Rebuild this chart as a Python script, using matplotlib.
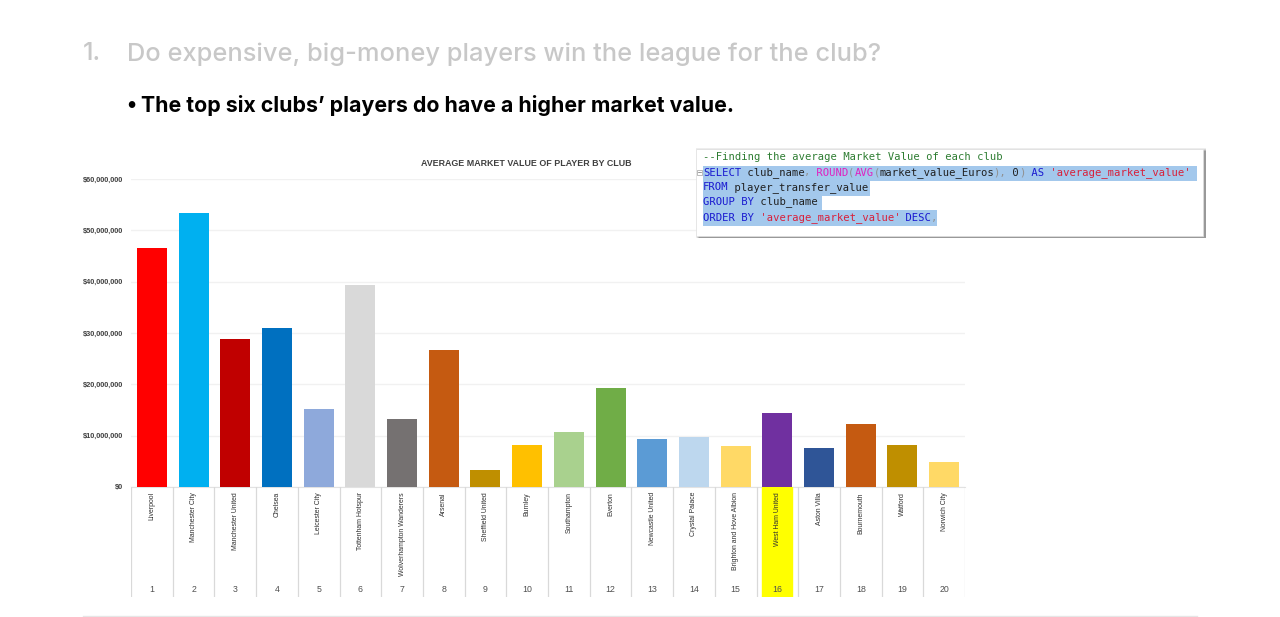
import matplotlib
matplotlib.use("Agg")
import matplotlib.pyplot as plt
from matplotlib.patches import Rectangle

W, H = 1280, 617

clubs = ["Liverpool", "Manchester City", "Manchester United", "Chelsea", "Leicester City",
         "Tottenham Hotspur", "Wolverhampton Wanderers", "Arsenal", "Sheffield United", "Burnley",
         "Southampton", "Everton", "Newcastle United", "Crystal Palace", "Brighton and Hove Albion",
         "West Ham United", "Aston Villa", "Bournemouth", "Watford", "Norwich City"]
ranks = list(range(1, 21))
values = [46.6e6, 53.4e6, 28.8e6, 31.0e6, 15.2e6, 39.4e6, 13.2e6, 26.7e6, 3.3e6, 8.2e6,
          10.7e6, 19.3e6, 9.3e6, 9.8e6, 8.0e6, 14.4e6, 7.6e6, 12.3e6, 8.2e6, 4.8e6]
colors = ["#FF0000", "#00B0F0", "#C00000", "#0070C0", "#8EA9DB", "#D9D9D9", "#757171", "#C55A11",
          "#BF8F00", "#FFC000", "#A9D18E", "#70AD47", "#5B9BD5", "#BDD7EE", "#FFD966", "#7030A0",
          "#2F5597", "#C55A11", "#BF8F00", "#FFD966"]
yticks = [0, 10e6, 20e6, 30e6, 40e6, 50e6, 60e6]
highlight = "West Ham United"

heading_num = "1."
heading = "Do expensive, big-money players win the league for the club?"
bullet = "The top six clubs’ players do have a higher market value."
chart_title = "AVERAGE MARKET VALUE OF PLAYER BY CLUB"

BLUE, PINK, RED, BLACK, GREEN, GREY = "#1a1ad0", "#e020c0", "#d8203a", "#202020", "#2e7d32", "#909090"
sql_lines = [
    [("--Finding the average Market Value of each club", GREEN)],
    [("SELECT", BLUE), (" club_name", BLACK), (",", GREY), (" ROUND", PINK), ("(", GREY), ("AVG", PINK),
     ("(", GREY), ("market_value_Euros", BLACK), ("),", GREY), (" 0", BLACK), (")", GREY), (" AS", BLUE),
     (" 'average_market_value'", RED)],
    [("FROM", BLUE), (" player_transfer_value", BLACK)],
    [("GROUP BY", BLUE), (" club_name", BLACK)],
    [("ORDER BY", BLUE), (" 'average_market_value'", RED), (" DESC", BLUE), (",", GREY)],
]
sql_y = [157, 172.5, 187.5, 202, 218]
sql_sel = [1197, 870, 822, 937]

fig = plt.figure(figsize=(W / 100, H / 100), dpi=100, facecolor="white")

def rect(l, t, r, b):
    return [l / W, 1 - b / H, (r - l) / W, (b - t) / H]

ax = fig.add_axes(rect(131, 179, 965, 487))
x = list(range(1, 21))
ax.bar(x, values, width=0.72, color=colors, zorder=3, linewidth=0)
ax.set_xlim(0.5, 20.5)
ax.set_ylim(0, 60e6)
ax.set_yticks(yticks)
ax.set_yticklabels([f"${v:,.0f}" for v in yticks], fontsize=5.3, fontweight="bold", color="#404040",
                   family="Liberation Sans")
ax.set_xticks([])
ax.tick_params(axis="y", length=0, pad=5.5)
ax.grid(axis="y", color="#f1f1f1", linewidth=1, zorder=0)
for s in ax.spines.values():
    s.set_visible(False)
ax.spines["bottom"].set_visible(True)
ax.spines["bottom"].set_color("#e2e2e2")

# category table below the axis
cat = fig.add_axes(rect(131, 487, 965, 597))
cat.set_xlim(0.5, 20.5)
cat.set_ylim(110, 0)
cat.axis("off")
for k in range(21):
    cat.axvline(k + 0.5, color="#d9d9d9", linewidth=0.9)
for xi, club, rank in zip(x, clubs, ranks):
    if club == highlight:
        cat.axvspan(xi - 0.36, xi + 0.36, color="#FFFF00", zorder=0)
    cat.text(xi, 5, club, rotation=90, ha="center", va="top", fontsize=4.95, color="#303030",
             family="Liberation Sans")
    cat.text(xi, 103, str(rank), ha="center", va="center", fontsize=6.3, color="#505050",
             family="Liberation Sans")

# page-level overlay in pixel coordinates
ov = fig.add_axes([0, 0, 1, 1], facecolor="none")
ov.set_xlim(0, W)
ov.set_ylim(H, 0)
ov.axis("off")

ov.text(83, 54, heading_num, fontsize=18.3, color="#c8c8c8", family="Inter", fontweight="medium", va="center")
ov.text(127, 54, heading, fontsize=18.3, color="#c8c8c8", family="Inter", fontweight="medium", va="center")
ov.text(126, 105, "•", fontsize=15.3, color="black", family="Inter", fontweight="bold", va="center")
ov.text(141, 105, bullet, fontsize=15.35, color="black", family="Inter", fontweight="bold", va="center")
ov.text(526, 163, chart_title, fontsize=6.4, color="#404040", family="Liberation Sans",
        fontweight="bold", ha="center", va="center")
ov.plot([83, 1197], [616, 616], color="#e6e6e6", linewidth=1)

# SQL inset with drop shadow
for grow, alpha in [(3, 0.12), (2, 0.2), (1, 0.3), (0, 0.4)]:
    ov.add_patch(Rectangle((699 - grow, 151 - grow), 507 + grow, 87 + grow, facecolor="#707070",
                           edgecolor="none", alpha=alpha, zorder=4))
ov.add_patch(Rectangle((696, 149), 507, 87, facecolor="white", edgecolor="#e0e0e0", linewidth=0.5, zorder=5))
for (top, bottom), right in zip([(165.5, 181), (181, 195.5), (195.5, 210), (210, 225.5)], sql_sel):
    ov.add_patch(Rectangle((703, top), right - 703, bottom - top, facecolor="#a3c8ec", edgecolor="none", zorder=6))
ov.add_patch(Rectangle((696.5, 169.5), 5, 5, facecolor="white", edgecolor="#a0a0a0", linewidth=0.5, zorder=6))
ov.plot([697.5, 700.5], [172, 172], color="#707070", linewidth=0.5, zorder=7)
char_w = 6.32
for y, segs in zip(sql_y, sql_lines):
    col = 0
    for seg, c in segs:
        ov.text(703 + col * char_w, y, seg, fontsize=7.55, color=c, family="DejaVu Sans Mono",
                va="center", ha="left", zorder=7)
        col += len(seg)

fig.savefig("out.png", dpi=100, facecolor="white")
